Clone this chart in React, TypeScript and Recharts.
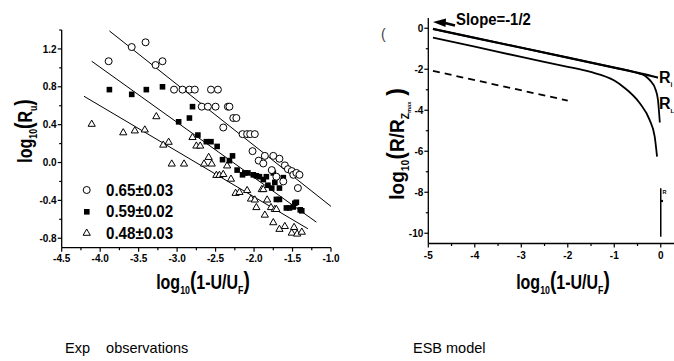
import React from "react";
import { ComposedChart, Scatter, Line, XAxis, YAxis } from "recharts";

// ---- left panel: experimental points (x = log10(1-U/UF), y = log10(Ru)) ----
const circlePts = [
  [-3.89, 1.07], [-3.59, 1.22], [-3.41, 1.27], [-3.28, 1.03], [-3.19, 1.07],
  [-3.04, 0.77], [-2.93, 0.77], [-2.84, 0.77], [-2.77, 0.77], [-2.56, 0.77], [-2.47, 0.77],
  [-2.68, 0.59], [-2.6, 0.59], [-2.5, 0.59], [-2.34, 0.59], [-2.32, 0.59],
  [-2.4, 0.37], [-2.27, 0.47], [-2.23, 0.47],
  [-2.15, 0.3], [-2.09, 0.3], [-2.05, 0.3], [-1.99, 0.3],
  [-2.02, 0.12], [-1.94, 0.02], [-1.88, -0.01], [-1.86, 0.07], [-1.75, 0.07], [-1.67, 0.04],
  [-1.77, -0.08], [-1.71, -0.15], [-1.62, -0.2], [-1.6, -0.03], [-1.56, -0.07],
  [-1.51, -0.09], [-1.49, -0.13], [-1.45, -0.11], [-1.41, -0.13], [-1.43, -0.27],
];
const squarePts = [
  [-3.88, 0.77], [-3.59, 0.72], [-3.4, 0.77], [-3.19, 0.8],
  [-2.8, 0.59], [-2.84, 0.47], [-2.98, 0.43], [-2.73, 0.29], [-2.62, 0.22], [-2.56, 0.22], [-2.48, 0.17],
  [-2.41, 0.03], [-2.32, 0.02], [-2.28, 0.07], [-2.22, -0.08],
  [-2.15, -0.13], [-2.12, -0.11], [-2.08, -0.11], [-2.01, -0.13], [-1.97, -0.14], [-1.93, -0.15],
  [-1.88, -0.18], [-1.84, -0.15], [-1.82, -0.24], [-1.77, -0.27], [-1.75, -0.11], [-1.73, -0.21],
  [-1.62, -0.16], [-1.67, -0.27], [-1.67, -0.39], [-1.71, -0.39],
  [-1.58, -0.48], [-1.54, -0.48], [-1.49, -0.47], [-1.47, -0.43], [-1.45, -0.42], [-1.4, -0.5], [-1.38, -0.51],
];
const trianglePts = [
  [-4.11, 0.41], [-3.7, 0.32], [-3.55, 0.34], [-3.42, 0.35], [-3.27, 0.49], [-3.18, 0.19], [-3.11, 0.22],
  [-3.07, -0.01], [-2.91, -0.01], [-2.8, 0.27], [-2.75, 0.18], [-2.7, 0.18], [-2.65, -0.01], [-2.59, 0.06],
  [-2.55, -0.01], [-2.49, -0.13], [-2.45, -0.13], [-2.4, -0.12], [-2.35, -0.03], [-2.3, -0.17],
  [-2.24, -0.32], [-2.19, -0.31], [-2.09, -0.29], [-2.04, -0.38], [-1.99, -0.39], [-1.97, -0.47],
  [-1.9, -0.28], [-1.88, -0.28], [-1.83, -0.39], [-1.78, -0.47], [-1.73, -0.49], [-1.71, -0.49],
  [-1.86, -0.55], [-1.75, -0.63], [-1.67, -0.7], [-1.6, -0.67], [-1.51, -0.74], [-1.48, -0.68],
  [-1.44, -0.75], [-1.38, -0.73],
];
const fitCircle = [[-3.88, 1.39], [-0.99, -0.47]];
const fitSquare = [[-4.11, 1.07], [-1.19, -0.63]];
const fitTriangle = [[-4.21, 0.7], [-1.3, -0.7]];
const legendLabels = ["0.65\u00b10.03", "0.59\u00b10.02", "0.48\u00b10.03"];

const leftXMajor = [-4.5, -4.0, -3.5, -3.0, -2.5, -2.0, -1.5, -1.0];
const leftXMinor = [-4.25, -3.75, -3.25, -2.75, -2.25, -1.75, -1.25];
const leftYMajor = [-0.8, -0.4, 0, 0.4, 0.8, 1.2];
const leftYMinor = [-0.6, -0.2, 0.2, 0.6, 1.0, 1.4];

// ---- right panel: ESB model curves ----
const curveRi = [
  [-4.9, -0.03], [-4, -0.47], [-3, -0.95], [-2, -1.43], [-1, -1.92], [-0.5, -2.17], [-0.2, -2.33], [-0.06, -2.41],
];
const curveRL = [
  [-4.9, -0.03], [-4, -0.47], [-3, -0.95], [-2, -1.43], [-1, -1.92], [-0.5, -2.18], [-0.35, -2.3],
  [-0.24, -2.52], [-0.11, -3.0], [-0.06, -3.5], [-0.02, -4.6],
];
const curveLow = [
  [-4.9, -0.46], [-4, -0.9], [-3, -1.4], [-2, -1.88], [-1.53, -2.12], [-1, -2.55], [-0.81, -2.85],
  [-0.45, -3.66], [-0.24, -4.47], [-0.13, -5.29], [-0.08, -6.26],
];
const slopeRef = [[-4.9, -2.08], [-2, -3.53]];
const curveVert = [[0, -7.8], [0, -10.17]];

const rightXMajor = [-5, -4, -3, -2, -1, 0];
const rightXMinor = [-4.5, -3.5, -2.5, -1.5, -0.5];
const rightYMajor = [0, -2, -4, -6, -8, -10];
const rightYMinor = [-1, -3, -5, -7, -9];

const FONT = "'Liberation Sans', Arial, sans-serif";
const pts = (a: number[][]) => a.map(([x, y]) => ({ x, y }));
const isIn = (arr: number[], v: number) => arr.some((m) => Math.abs(m - v) < 1e-9);

function BottomTick(props: any) {
  const { x, y, payload, majors, fmt, gap } = props;
  const major = isIn(majors, payload.value);
  return (
    <g>
      <line x1={x} x2={x} y1={y} y2={y + (major ? 4 : 2.5)} stroke="#000" strokeWidth={1.2} />
      {major && (
        <text x={x} y={y + gap} textAnchor="middle" fontSize={10} fontWeight="bold" fontFamily={FONT} fill="#000">
          {fmt(payload.value)}
        </text>
      )}
    </g>
  );
}

function LeftTick(props: any) {
  const { x, y, payload, majors, fmt } = props;
  const major = isIn(majors, payload.value);
  return (
    <g>
      <line x1={x - (major ? 4 : 2.5)} x2={x} y1={y} y2={y} stroke="#000" strokeWidth={1.2} />
      {major && (
        <text x={x - 5} y={y + 3.6} textAnchor="end" fontSize={10} fontWeight="bold" fontFamily={FONT} fill="#000">
          {fmt(payload.value)}
        </text>
      )}
    </g>
  );
}

const circleShape = (p: any) => <circle cx={p.cx} cy={p.cy} r={3.5} fill="#fff" stroke="#000" strokeWidth={1} />;
const squareShape = (p: any) => <rect x={p.cx - 2.8} y={p.cy - 2.8} width={5.6} height={5.6} fill="#000" />;
const triShape = (p: any) => (
  <polygon
    points={`${p.cx},${p.cy - 3.6} ${p.cx - 3.6},${p.cy + 2.6} ${p.cx + 3.6},${p.cy + 2.6}`}
    fill="#fff"
    stroke="#000"
    strokeWidth={1}
  />
);

export default function App() {
  const axisLine = { stroke: "#000", strokeWidth: 1.3 };
  const f1 = (v: number) => v.toFixed(1);
  const f0 = (v: number) => String(v);
  const bold = { fontFamily: FONT, fontWeight: "bold" as const, fill: "#000" };

  return (
    <div style={{ position: "fixed", left: 0, top: 0, width: 674, height: 361, overflow: "hidden", background: "#fff" }}>
      <div style={{ position: "absolute", left: 0, top: 0 }}>
        <ComposedChart width={340} height={300} margin={{ top: 30, right: 9, bottom: 22.3, left: 0 }}>
          <XAxis
            type="number"
            dataKey="x"
            domain={[-4.5, -1.0]}
            ticks={[...leftXMajor, ...leftXMinor]}
            interval={0}
            height={30}
            tickSize={0}
            tickMargin={0}
            axisLine={axisLine}
            tickLine={false}
            tick={(p: any) => <BottomTick {...p} majors={leftXMajor} fmt={f1} gap={14.2} />}
            allowDataOverflow
          />
          <YAxis
            type="number"
            dataKey="y"
            domain={[-0.9, 1.4]}
            ticks={[...leftYMajor, ...leftYMinor]}
            interval={0}
            width={61.7}
            tickSize={0}
            tickMargin={0}
            axisLine={axisLine}
            tickLine={false}
            tick={(p: any) => <LeftTick {...p} majors={leftYMajor} fmt={f1} />}
            allowDataOverflow
          />
          <Line data={pts(fitCircle)} dataKey="y" type="linear" stroke="#000" strokeWidth={1} dot={false} activeDot={false} isAnimationActive={false} />
          <Line data={pts(fitSquare)} dataKey="y" type="linear" stroke="#000" strokeWidth={1} dot={false} activeDot={false} isAnimationActive={false} />
          <Line data={pts(fitTriangle)} dataKey="y" type="linear" stroke="#000" strokeWidth={1} dot={false} activeDot={false} isAnimationActive={false} />
          <Scatter data={pts(trianglePts)} dataKey="y" shape={triShape} isAnimationActive={false} />
          <Scatter data={pts(squarePts)} dataKey="y" shape={squareShape} isAnimationActive={false} />
          <Scatter data={pts(circlePts)} dataKey="y" shape={circleShape} isAnimationActive={false} />
        </ComposedChart>
      </div>

      <div style={{ position: "absolute", left: 340, top: 0 }}>
        <ComposedChart width={360} height={300} margin={{ top: 18, right: 16, bottom: 26.5, left: 0 }}>
          <XAxis
            type="number"
            dataKey="x"
            domain={[-5, 0.5]}
            ticks={[...rightXMajor, ...rightXMinor]}
            interval={0}
            height={30}
            tickSize={0}
            tickMargin={0}
            axisLine={axisLine}
            tickLine={false}
            tick={(p: any) => <BottomTick {...p} majors={rightXMajor} fmt={f0} gap={15.6} />}
            allowDataOverflow
          />
          <YAxis
            type="number"
            dataKey="y"
            domain={[-10.5, 0.5]}
            ticks={[...rightYMajor, ...rightYMinor]}
            interval={0}
            width={88.3}
            tickSize={0}
            tickMargin={0}
            axisLine={axisLine}
            tickLine={false}
            tick={(p: any) => <LeftTick {...p} majors={rightYMajor} fmt={f0} />}
            allowDataOverflow
          />
          <Line data={pts(curveRi)} dataKey="y" type="monotone" stroke="#000" strokeWidth={2.2} dot={false} activeDot={false} isAnimationActive={false} />
          <Line data={pts(curveRL)} dataKey="y" type="monotone" stroke="#000" strokeWidth={1.8} dot={false} activeDot={false} isAnimationActive={false} />
          <Line data={pts(curveLow)} dataKey="y" type="monotone" stroke="#000" strokeWidth={1.8} dot={false} activeDot={false} isAnimationActive={false} />
          <Line data={pts(slopeRef)} dataKey="y" type="linear" stroke="#000" strokeWidth={1.8} strokeDasharray="7 5" dot={false} activeDot={false} isAnimationActive={false} />
          <Line data={pts(curveVert)} dataKey="y" type="linear" stroke="#000" strokeWidth={1.5} dot={false} activeDot={false} isAnimationActive={false} />
        </ComposedChart>
      </div>

      <svg width={674} height={361} style={{ position: "absolute", left: 0, top: 0, pointerEvents: "none" }}>
        {/* left axis titles */}
        <g transform="translate(25,131) rotate(-90) scale(0.8,1)">
          <text x={0} y={7} textAnchor="middle" fontSize={20} {...bold}>
            log<tspan fontSize={11} dy={5}>10</tspan>
            <tspan fontSize={24} dy={-5}>(</tspan>R<tspan fontSize={11} dy={5}>u</tspan>
            <tspan fontSize={24} dy={-5}>)</tspan>
          </text>
        </g>
        <g transform="translate(203,289) scale(0.8,1)">
          <text x={0} y={0} textAnchor="middle" fontSize={20} {...bold}>
            log<tspan fontSize={11} dy={5}>10</tspan>
            <tspan fontSize={24} dy={-5}>(</tspan>1-U/U<tspan fontSize={11} dy={5}>F</tspan>
            <tspan fontSize={24} dy={-5}>)</tspan>
          </text>
        </g>

        {/* legend */}
        <circle cx={86.7} cy={190} r={3.5} fill="#fff" stroke="#000" strokeWidth={1} />
        <rect x={84} y={209} width={5.6} height={5.6} fill="#000" />
        <polygon points="86.7,229 83.1,235.3 90.3,235.3" fill="#fff" stroke="#000" strokeWidth={1} />
        {legendLabels.map((t, i) => (
          <g key={t} transform={`translate(106,${196 + i * 21.3}) scale(0.89,1)`}>
            <text x={0} y={0} fontSize={17} {...bold}>{t}</text>
          </g>
        ))}

        {/* right axis titles */}
        <text x={381} y={39} fontSize={14} fontFamily={FONT} fill="#444">(</text>
        <g transform="translate(397,144) rotate(-90) scale(0.95,1)">
          <text x={0} y={7} textAnchor="middle" fontSize={20} {...bold}>
            log<tspan fontSize={11} dy={5}>10</tspan>
            <tspan fontSize={24} dy={-5}>(</tspan>R/R<tspan fontSize={11} dy={5}>Z</tspan>
            <tspan fontSize={6} dy={2}>max</tspan>
            <tspan fontSize={24} dy={-7} dx={6}>)</tspan>
          </text>
        </g>
        <g transform="translate(563,289) scale(0.8,1)">
          <text x={0} y={0} textAnchor="middle" fontSize={20} {...bold}>
            log<tspan fontSize={11} dy={5}>10</tspan>
            <tspan fontSize={24} dy={-5}>(</tspan>1-U/U<tspan fontSize={11} dy={5}>F</tspan>
            <tspan fontSize={24} dy={-5}>)</tspan>
          </text>
        </g>

        {/* slope annotation */}
        <g transform="translate(456,25) scale(0.93,1)">
          <text x={0} y={0} fontSize={16} {...bold}>Slope=-1/2</text>
        </g>
        <polygon points="433,22 446,18.5 445.5,27" fill="#000" />
        <line x1={445} y1={23} x2={455} y2={25.5} stroke="#000" strokeWidth={2.5} />

        {/* curve labels */}
        <text x={659} y={83} fontSize={16} {...bold}>R<tspan fontSize={6.5} dy={4}>i</tspan></text>
        <text x={659} y={109} fontSize={16} {...bold}>R<tspan fontSize={6} dy={4}>L</tspan></text>
        <text x={662.5} y={193.5} fontSize={5.5} {...bold}>R</text>
        <circle cx={662} cy={201} r={1.2} fill="#000" />

        {/* captions */}
        <text x={65} y={353} fontSize={14.5} fontFamily={FONT} fill="#000" style={{ whiteSpace: "pre" }}>
          {"Exp    observations"}
        </text>
        <text x={413} y={353} fontSize={14.5} fontFamily={FONT} fill="#000">ESB model</text>
      </svg>
    </div>
  );
}
